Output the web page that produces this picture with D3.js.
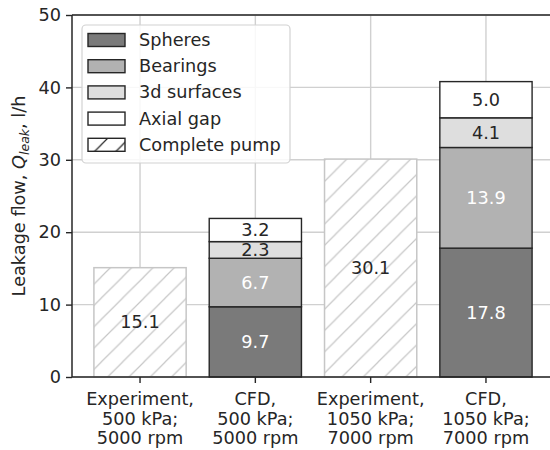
<!DOCTYPE html>
<html>
<head>
<meta charset="utf-8">
<script src="https://cdn.jsdelivr.net/npm/d3@7"></script>
<style>
  html, body { margin: 0; padding: 0; background: #fff; }
  svg { display: block; font-family: "DejaVu Sans", sans-serif; }
</style>
</head>
<body>
<svg id="chart" width="550" height="450"></svg>
<script>
// Categories (multi-line tick labels)
const categories = [
  ["Experiment,", "500 kPa;", "5000 rpm"],
  ["CFD,", "500 kPa;", "5000 rpm"],
  ["Experiment,", "1050 kPa;", "7000 rpm"],
  ["CFD,", "1050 kPa;", "7000 rpm"]
];
// Leakage components, l/h (null = not present in that bar)
const spheres      = [null, 9.7, null, 17.8];
const bearings     = [null, 6.7, null, 13.9];
const surfaces3d   = [null, 2.3, null, 4.1];
const axialGap     = [null, 3.2, null, 5.0];
const completePump = [15.1, null, 30.1, null];
const yTicks = [0, 10, 20, 30, 40, 50];

const seriesNames = ["Spheres", "Bearings", "3d surfaces", "Axial gap"];
const seriesValues = [spheres, bearings, surfaces3d, axialGap];
const fills = ["#7a7a7a", "#b2b2b2", "#dedede", "#ffffff"];
const labelColors = ["#ffffff", "#ffffff", "#262626", "#262626"];

const ink = "#262626";
const gridColor = "#d0d0d0";
const hatchColor = "#c6c6c6";
const fontSize = 17.7;

const svg = d3.select("#chart");
const margin = { left: 72, top: 15, right: 554, bottom: 377 };

const x = d3.scaleBand()
  .domain(d3.range(categories.length))
  .range([margin.left, margin.right])
  .paddingInner(0.2)
  .paddingOuter(0.19);
const y = d3.scaleLinear().domain([0, 50]).range([margin.bottom, margin.top]);

// hatch patterns ('/' lines)
const defs = svg.append("defs");
function hatch(id, color, size, width) {
  const p = defs.append("pattern")
    .attr("id", id)
    .attr("patternUnits", "userSpaceOnUse")
    .attr("patternTransform", "translate(16,0)")
    .attr("width", size).attr("height", size);
  p.append("path")
    .attr("d", `M0,${size} L${size},0 M${-size/2},${size/2} L${size/2},${-size/2} M${size/2},${size*1.5} L${size*1.5},${size/2}`)
    .attr("stroke", color).attr("stroke-width", width).attr("fill", "none");
}
hatch("hatchBar", hatchColor, 21.3, 1.2);
hatch("hatchLegend", ink, 21.3, 1.2);

// grid
const grid = svg.append("g");
grid.selectAll("line.h").data(yTicks).join("line")
  .attr("x1", margin.left).attr("x2", margin.right)
  .attr("y1", d => y(d)).attr("y2", d => y(d))
  .attr("stroke", gridColor).attr("stroke-width", 1.4);
grid.selectAll("line.v").data(d3.range(categories.length)).join("line")
  .attr("x1", d => x(d) + x.bandwidth() / 2).attr("x2", d => x(d) + x.bandwidth() / 2)
  .attr("y1", margin.top).attr("y2", margin.bottom)
  .attr("stroke", gridColor).attr("stroke-width", 1.4);

// complete pump (experiment) bars
const expData = completePump.map((v, i) => ({ i, v })).filter(d => d.v != null);
const expG = svg.append("g");
expG.selectAll("rect.bg").data(expData).join("rect")
  .attr("x", d => x(d.i)).attr("width", x.bandwidth())
  .attr("y", d => y(d.v)).attr("height", d => y(0) - y(d.v))
  .attr("fill", "#fff");
expG.selectAll("rect.h").data(expData).join("rect")
  .attr("x", d => x(d.i)).attr("width", x.bandwidth())
  .attr("y", d => y(d.v)).attr("height", d => y(0) - y(d.v))
  .attr("fill", "url(#hatchBar)")
  .attr("stroke", hatchColor).attr("stroke-width", 1.5);
expG.selectAll("text").data(expData).join("text")
  .attr("x", d => x(d.i) + x.bandwidth() / 2)
  .attr("y", d => y(d.v / 2))
  .attr("text-anchor", "middle").attr("dominant-baseline", "central")
  .attr("font-size", fontSize).attr("fill", ink)
  .text(d => d.v.toFixed(1));

// stacked CFD bars
const rows = categories.map((c, i) => {
  const r = { i };
  seriesNames.forEach((s, k) => r[s] = seriesValues[k][i]);
  return r;
}).filter(r => r[seriesNames[0]] != null);
const stacked = d3.stack().keys(seriesNames)(rows);
const stackG = svg.append("g");
stacked.forEach((layer, k) => {
  const g = stackG.append("g");
  g.selectAll("rect").data(layer).join("rect")
    .attr("x", d => x(d.data.i)).attr("width", x.bandwidth())
    .attr("y", d => y(d[1])).attr("height", d => y(d[0]) - y(d[1]))
    .attr("fill", fills[k]).attr("stroke", ink).attr("stroke-width", 1.4);
});
stacked.forEach((layer, k) => {
  stackG.append("g").selectAll("text").data(layer).join("text")
    .attr("x", d => x(d.data.i) + x.bandwidth() / 2)
    .attr("y", d => y((d[0] + d[1]) / 2))
    .attr("text-anchor", "middle").attr("dominant-baseline", "central")
    .attr("font-size", fontSize).attr("fill", labelColors[k])
    .text(d => (d[1] - d[0]).toFixed(1));
});

// axes
const yAxis = d3.axisLeft(y).tickValues(yTicks).tickSize(6).tickPadding(5);
const yg = svg.append("g").attr("transform", `translate(${margin.left},0)`).call(yAxis);
const xAxis = d3.axisBottom(x).tickSize(6).tickFormat(() => "");
const xg = svg.append("g").attr("transform", `translate(0,${margin.bottom})`).call(xAxis);
[yg, xg].forEach(g => {
  g.attr("font-size", fontSize).attr("font-family", "DejaVu Sans, sans-serif");
  g.select(".domain").remove();
  g.selectAll(".tick line").attr("stroke", ink).attr("stroke-width", 1.4);
  g.selectAll(".tick text").attr("fill", ink).attr("font-size", fontSize);
});
xg.selectAll(".tick").each(function (d) {
  const t = d3.select(this).select("text");
  t.attr("y", null).attr("dy", null);
  t.selectAll("tspan").data(categories[d]).join("tspan")
    .attr("x", 0).attr("y", (l, j) => 28 + j * 19.6)
    .attr("text-anchor", "middle")
    .text(l => l);
});

// spines
const spines = svg.append("g").attr("stroke", ink).attr("stroke-width", 1.5);
spines.append("line").attr("x1", margin.left).attr("x2", margin.left).attr("y1", margin.top).attr("y2", margin.bottom);
spines.append("line").attr("x1", margin.left).attr("x2", margin.right).attr("y1", margin.bottom).attr("y2", margin.bottom);
spines.append("line").attr("x1", margin.left).attr("x2", margin.right).attr("y1", margin.top).attr("y2", margin.top);
spines.append("line").attr("x1", margin.right).attr("x2", margin.right).attr("y1", margin.top).attr("y2", margin.bottom);

// y-axis title
const yt = svg.append("text")
  .attr("transform", `translate(25,${(margin.top + margin.bottom) / 2}) rotate(-90)`)
  .attr("text-anchor", "middle").attr("font-size", fontSize).attr("fill", ink);
yt.append("tspan").text("Leakage flow, ");
yt.append("tspan").attr("font-style", "italic").text("Q");
yt.append("tspan").attr("font-style", "italic").attr("font-size", 12.5).attr("dy", 4).text("leak");
yt.append("tspan").attr("dy", -4).text(", l/h");

// legend
const legend = svg.append("g");
legend.append("rect")
  .attr("x", 82).attr("y", 25).attr("width", 208).attr("height", 138)
  .attr("rx", 4).attr("fill", "#fff").attr("fill-opacity", 0.85)
  .attr("stroke", "#d2d2d2").attr("stroke-width", 1.2);
const legendItems = seriesNames.map((s, k) => ({ name: s, fill: fills[k] }))
  .concat([{ name: "Complete pump", fill: "url(#hatchLegend)" }]);
const li = legend.selectAll("g.item").data(legendItems).join("g")
  .attr("transform", (d, k) => `translate(0,${40 + k * 26.2})`);
li.append("rect").attr("x", 88).attr("y", -6.5).attr("width", 37).attr("height", 13)
  .attr("fill", "#fff");
li.append("rect").attr("x", 88).attr("y", -6.5).attr("width", 37).attr("height", 13)
  .attr("fill", d => d.fill).attr("stroke", ink).attr("stroke-width", 1.4);
li.append("text").attr("x", 139).attr("y", 0).attr("dominant-baseline", "central")
  .attr("font-size", fontSize).attr("fill", ink).text(d => d.name);
</script>
</body>
</html>
